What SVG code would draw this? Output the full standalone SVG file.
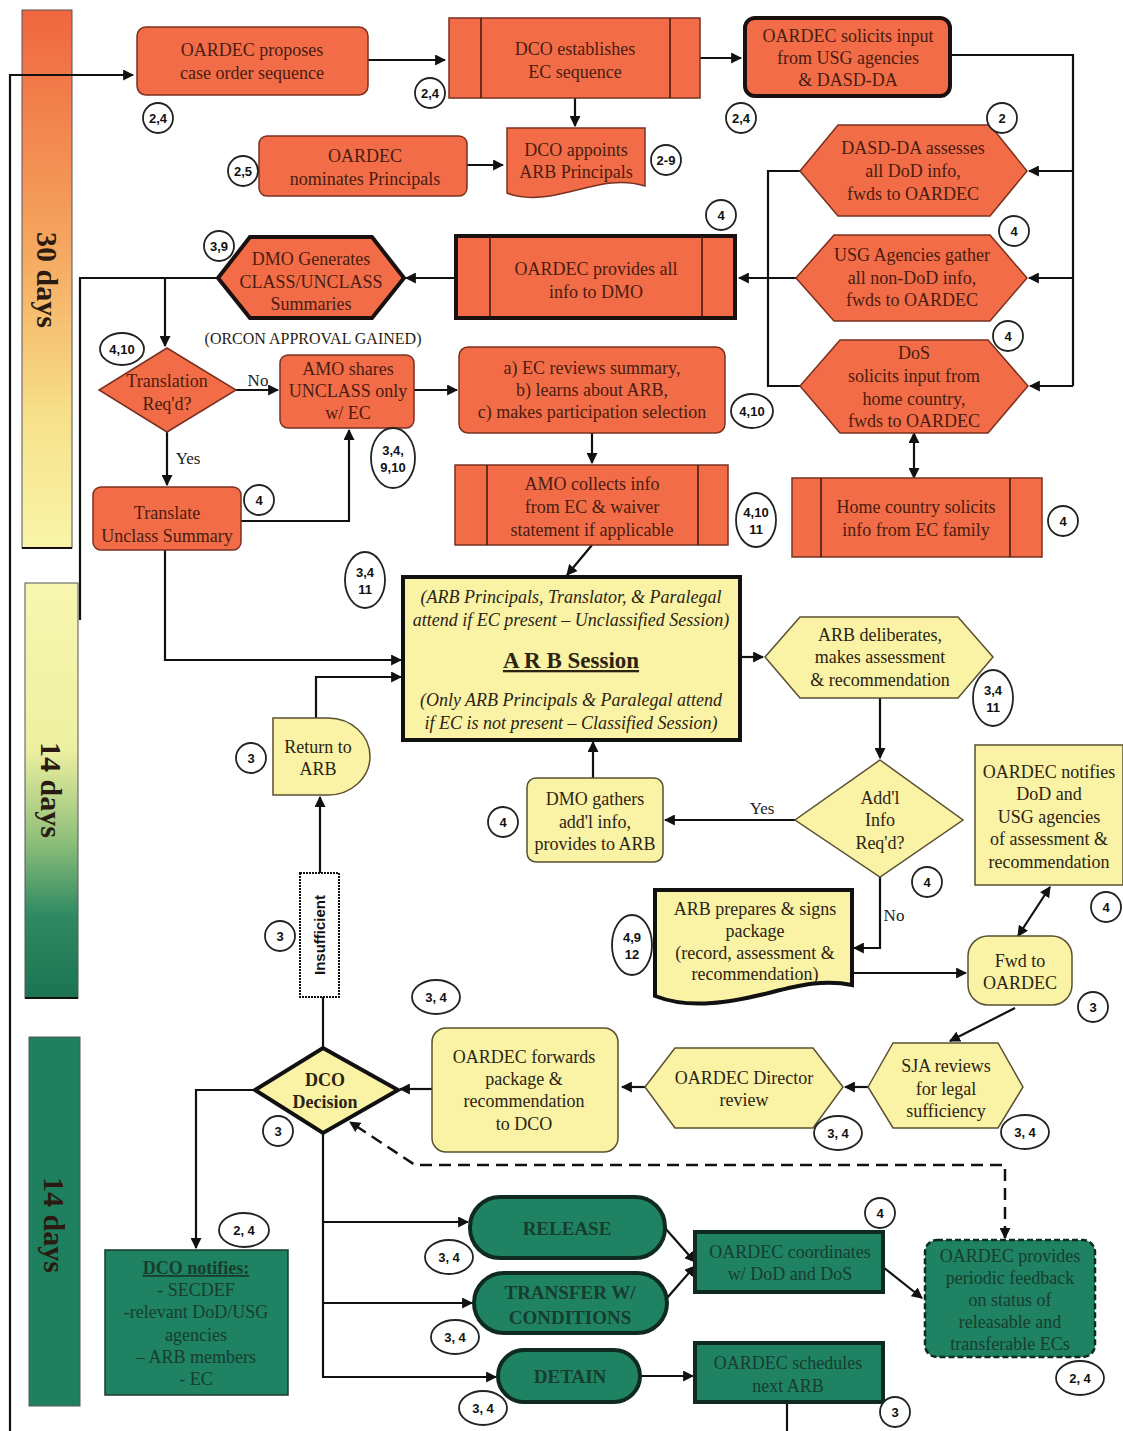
<svg xmlns="http://www.w3.org/2000/svg" width="1123" height="1431" viewBox="0 0 1123 1431">
<defs>
<linearGradient id="g30" x1="0" y1="0" x2="0" y2="1">
<stop offset="0" stop-color="#f0663f"/><stop offset="0.45" stop-color="#f5a860"/><stop offset="0.75" stop-color="#f7e08a"/><stop offset="1" stop-color="#f8f5a8"/>
</linearGradient>
<linearGradient id="g14a" x1="0" y1="0" x2="0" y2="1">
<stop offset="0" stop-color="#f8f6b0"/><stop offset="0.4" stop-color="#eef0a0"/><stop offset="0.62" stop-color="#8fbf7a"/><stop offset="0.8" stop-color="#2f8a62"/><stop offset="1" stop-color="#1a7452"/>
</linearGradient>
<marker id="ah" viewBox="0 0 10 10" refX="9" refY="5" markerWidth="11" markerHeight="11" markerUnits="userSpaceOnUse" orient="auto-start-reverse">
<path d="M0,0 L10,5 L0,10 Z" fill="#111"/>
</marker>
<style>
.t{font-family:"Liberation Serif","Times New Roman",serif;font-size:18px;text-anchor:middle}
.to{fill:#4a1c10}
.ty{fill:#2b2412}
.tg{fill:#173d2f}
.or{fill:#f26d47;stroke:#7a3020;stroke-width:1.5}
.orT{fill:#f26d47;stroke:#1a1010;stroke-width:4}
.ye{fill:#faf3a6;stroke:#5a5030;stroke-width:1.5}
.yeT{fill:#faf3a6;stroke:#111;stroke-width:4}
.gr{fill:#1f8262;stroke:#1a3a2c;stroke-width:1.5}
.grT{fill:#1f8262;stroke:#0f2a20;stroke-width:4}
.inl{stroke:#3a1a10;stroke-width:1.5;fill:none}
.c{fill:none;stroke:#111;stroke-width:2.2}
.ca{fill:none;stroke:#111;stroke-width:2.2;marker-end:url(#ah)}
.b{fill:#fff;stroke:#222;stroke-width:1.8}
.bt{font-family:"Liberation Sans",Arial,sans-serif;font-weight:bold;font-size:13px;text-anchor:middle;fill:#111}
.lbl{font-family:"Liberation Serif","Times New Roman",serif;font-size:17px;fill:#222}
.bar{font-family:"Liberation Serif","Times New Roman",serif;font-size:30px;font-weight:bold;fill:#2a1a10;text-anchor:middle}
</style>
</defs>
<rect width="1123" height="1431" fill="#fff"/>

<g id="timeline">
<rect x="22" y="10" width="50" height="538" fill="url(#g30)" stroke="#555" stroke-width="1"/>
<line x1="22" y1="548" x2="72" y2="548" stroke="#111" stroke-width="2"/>
<text class="bar" transform="translate(47,280) rotate(90)" dy="10">30 days</text>
<rect x="25" y="583" width="53" height="415" fill="url(#g14a)" stroke="#555" stroke-width="1"/>
<line x1="25" y1="998" x2="78" y2="998" stroke="#111" stroke-width="2"/>
<text class="bar" transform="translate(51,790) rotate(90)" dy="10">14 days</text>
<rect x="29" y="1037" width="51" height="369" fill="#1f8060" stroke="#555" stroke-width="1"/>
<text class="bar" transform="translate(54,1225) rotate(90)" dy="10">14 days</text>
</g>

<g id="connectors">
<path class="ca" d="M10,1431 V75 H133"/>
<path class="ca" d="M368,60 H445"/>
<path class="ca" d="M700,58 H741"/>
<path class="c" d="M950,55 H1073 V386"/>
<path class="ca" d="M1073,171 H1029"/>
<path class="ca" d="M1073,278 H1029"/>
<path class="ca" d="M1073,386 H1030"/>
<path class="c" d="M800,171 H768 V386 H800"/>
<path class="ca" d="M796,278 H739"/>
<path class="ca" d="M575,98 V126"/>
<path class="ca" d="M467,165 H503"/>
<path class="ca" d="M456,278 H406"/>
<path class="c" d="M218,278 H80 V620" stroke-width="1.5"/>
<path class="ca" d="M165,278 V346"/>
<path class="ca" d="M236,390 H278"/>
<path class="ca" d="M414,390 H457"/>
<path class="ca" d="M167,432 V485"/>
<path class="ca" d="M241,521 H349 V430"/>
<path class="ca" d="M165,550 V660 H401"/>
<path class="ca" d="M592,433 V463"/>
<path class="ca" d="M592,545 L567,575"/>
<path class="ca" d="M740,657 H763"/>
<path class="ca" d="M880,698 V758"/>
<path class="ca" d="M795,820 H665"/>
<path class="ca" d="M593,778 V742"/>
<path class="ca" d="M316,718 V677 H401"/>
<path class="ca" d="M320,873 V797"/>
<path class="c" d="M323,1048 V997"/>
<path class="ca" d="M880,877 V948 H854" stroke-width="3"/>
<path class="ca" d="M852,973 H966" stroke-width="3"/>
<path class="ca" d="M1018,936 L1050,887" stroke-width="3" marker-start="url(#ah)"/>
<path class="ca" d="M914,433 V478" stroke-width="3" marker-start="url(#ah)"/>
<path class="ca" d="M1015,1008 L950,1041" stroke-width="3"/>
<path class="ca" d="M868,1087 H845" stroke-width="3"/>
<path class="ca" d="M645,1087 H622" stroke-width="3"/>
<path class="ca" d="M432,1089 H400" stroke-width="3"/>
<path class="ca" d="M255,1090 H196 V1248"/>
<path class="ca" d="M323,1133 V1377 H496" stroke-width="3"/>
<path class="ca" d="M323,1222 H468" stroke-width="3"/>
<path class="ca" d="M323,1303 H472" stroke-width="3"/>
<path class="ca" d="M665,1228 L695,1262" stroke-width="3"/>
<path class="ca" d="M667,1298 L695,1266" stroke-width="3"/>
<path class="ca" d="M883,1267 L922,1298" stroke-width="3"/>
<path class="ca" d="M640,1376 H693" stroke-width="3"/>
<path class="c" d="M787,1402 V1431" stroke-width="3"/>
<path d="M1005,1238 V1165 H415 L350,1122" fill="none" stroke="#111" stroke-width="2.5" stroke-dasharray="12,7" marker-end="url(#ah)" marker-start="url(#ah)"/>
<text class="lbl" x="258" y="386" text-anchor="middle">No</text>
<text class="lbl" x="188" y="464" text-anchor="middle">Yes</text>
<text class="lbl" x="762" y="814" text-anchor="middle">Yes</text>
<text class="lbl" x="894" y="921" text-anchor="middle">No</text>
</g>

<g id="n-proposes"><rect class="or" x="137" y="27" width="231" height="68" rx="9"/>
<text class="t to" x="252" y="56">OARDEC proposes</text><text class="t to" x="252" y="79">case order sequence</text></g>

<g id="n-establishes"><rect class="or" x="449" y="18" width="251" height="80"/>
<path class="inl" d="M481,18 V98 M670,18 V98"/>
<text class="t to" x="575" y="55">DCO establishes</text><text class="t to" x="575" y="78">EC sequence</text></g>

<g id="n-solicits"><rect class="orT" x="745" y="18" width="205" height="78" rx="10"/>
<text class="t to" x="848" y="42">OARDEC solicits input</text><text class="t to" x="848" y="64">from USG agencies</text><text class="t to" x="848" y="86">&amp; DASD-DA</text></g>

<g id="n-nominates"><rect class="or" x="259" y="136" width="208" height="60" rx="8"/>
<text class="t to" x="365" y="162">OARDEC</text><text class="t to" x="365" y="185">nominates Principals</text></g>

<g id="n-appoints"><path class="or" d="M507,128 H645 V186 C612,176 585,190 550,196 C532,199 516,197 507,193 Z"/>
<text class="t to" x="576" y="156">DCO appoints</text><text class="t to" x="576" y="178">ARB Principals</text></g>

<g id="n-dasd"><path class="or" d="M800,171 L838,125 H990 L1027,171 L990,216 H838 Z"/>
<text class="t to" x="913" y="154">DASD-DA assesses</text><text class="t to" x="913" y="177">all DoD info,</text><text class="t to" x="913" y="200">fwds to OARDEC</text></g>

<g id="n-usg"><path class="or" d="M796,278 L834,235 H990 L1027,278 L990,321 H834 Z"/>
<text class="t to" x="912" y="261">USG Agencies gather</text><text class="t to" x="912" y="284">all non-DoD info,</text><text class="t to" x="912" y="306">fwds to OARDEC</text></g>

<g id="n-dos"><path class="or" d="M800,386 L840,340 H988 L1028,386 L988,433 H840 Z"/>
<text class="t to" x="914" y="359">DoS</text><text class="t to" x="914" y="382">solicits input from</text><text class="t to" x="914" y="405">home country,</text><text class="t to" x="914" y="427">fwds to OARDEC</text></g>

<g id="n-home"><rect class="or" x="792" y="478" width="250" height="79"/>
<path class="inl" d="M821,478 V557 M1010,478 V557"/>
<text class="t to" x="916" y="513">Home country solicits</text><text class="t to" x="916" y="536">info from EC family</text></g>

<g id="n-provides"><rect class="orT" x="456" y="236" width="279" height="82"/>
<path class="inl" d="M490,236 V318 M702,236 V318" stroke-width="2.5" stroke="#1a1010"/>
<text class="t to" x="596" y="275">OARDEC provides all</text><text class="t to" x="596" y="298">info to DMO</text></g>

<g id="n-dmo"><path class="orT" d="M218,278 L250,237 H372 L404,278 L372,318 H250 Z"/>
<text class="t to" x="311" y="265">DMO Generates</text><text class="t to" x="311" y="288">CLASS/UNCLASS</text><text class="t to" x="311" y="310">Summaries</text>
<text class="t" x="313" y="344" style="font-size:16px;fill:#2a1a10">(ORCON APPROVAL GAINED)</text></g>

<g id="n-translation"><path class="or" d="M167,348 L236,390 L167,432 L99,390 Z"/>
<text class="t to" x="167" y="387">Translation</text><text class="t to" x="167" y="410">Req'd?</text></g>

<g id="n-amoshares"><rect class="or" x="280" y="355" width="134" height="73" rx="8"/>
<text class="t to" x="348" y="375">AMO shares</text><text class="t to" x="348" y="397">UNCLASS only</text><text class="t to" x="348" y="419">w/ EC</text></g>

<g id="n-ecreviews"><rect class="or" x="459" y="347" width="266" height="86" rx="9"/>
<text class="t to" x="592" y="374">a) EC reviews summary,</text><text class="t to" x="592" y="396">b) learns about ARB,</text><text class="t to" x="592" y="418">c) makes participation selection</text></g>

<g id="n-translate"><rect class="or" x="93" y="487" width="148" height="63" rx="8"/>
<text class="t to" x="167" y="519">Translate</text><text class="t to" x="167" y="542">Unclass Summary</text></g>

<g id="n-amocollects"><rect class="or" x="455" y="465" width="273" height="80"/>
<path class="inl" d="M487,465 V545 M698,465 V545"/>
<text class="t to" x="592" y="490">AMO collects info</text><text class="t to" x="592" y="513">from EC &amp; waiver</text><text class="t to" x="592" y="536">statement if applicable</text></g>

<g id="n-session"><rect class="yeT" x="403" y="577" width="337" height="163"/>
<text class="t ty" x="571" y="603" font-style="italic">(ARB Principals, Translator, &amp; Paralegal</text>
<text class="t ty" x="571" y="626" font-style="italic">attend if EC present – Unclassified Session)</text>
<text class="t ty" x="571" y="668" font-weight="bold" text-decoration="underline" style="font-size:23px">A R B Session</text>
<text class="t ty" x="571" y="706" font-style="italic">(Only ARB Principals &amp; Paralegal attend</text>
<text class="t ty" x="571" y="729" font-style="italic">if EC is not present – Classified Session)</text></g>

<g id="n-deliberates"><path class="ye" d="M765,657 L800,617 H958 L993,657 L958,698 H800 Z"/>
<text class="t ty" x="880" y="641">ARB deliberates,</text><text class="t ty" x="880" y="663">makes assessment</text><text class="t ty" x="880" y="686">&amp; recommendation</text></g>

<g id="n-addl"><path class="ye" d="M880,760 L963,820 L880,877 L795,820 Z"/>
<text class="t ty" x="880" y="804">Add'l</text><text class="t ty" x="880" y="826">Info</text><text class="t ty" x="880" y="849">Req'd?</text></g>

<g id="n-dmogathers"><rect class="ye" x="527" y="778" width="136" height="84" rx="9"/>
<text class="t ty" x="595" y="805">DMO gathers</text><text class="t ty" x="595" y="828">add'l info,</text><text class="t ty" x="595" y="850">provides to ARB</text></g>

<g id="n-return"><path class="ye" d="M273,718 H328 A42,38.5 0 0 1 328,795 H273 Z"/>
<text class="t ty" x="318" y="753">Return to</text><text class="t ty" x="318" y="775">ARB</text></g>

<g id="n-insufficient"><rect x="300" y="873" width="39" height="124" fill="#fff" stroke="#111" stroke-width="2" stroke-dasharray="2,1"/>
<text transform="translate(320,935) rotate(-90)" dy="5" style="font-family:'Liberation Sans',Arial,sans-serif;font-weight:bold;font-size:15px;text-anchor:middle;fill:#111">Insufficient</text></g>

<g id="n-prepares"><path class="yeT" d="M655,890 H852 V985 C805,975 765,1000 712,1003 C688,1005 668,1001 655,996 Z"/>
<text class="t ty" x="755" y="915">ARB prepares &amp; signs</text><text class="t ty" x="755" y="937">package</text><text class="t ty" x="755" y="959">(record, assessment &amp;</text><text class="t ty" x="755" y="980">recommendation)</text></g>

<g id="n-fwd"><rect class="ye" x="968" y="936" width="104" height="69" rx="20"/>
<text class="t ty" x="1020" y="967">Fwd to</text><text class="t ty" x="1020" y="989">OARDEC</text></g>

<g id="n-notifies"><rect class="ye" x="975" y="745" width="148" height="140"/>
<text class="t ty" x="1049" y="778">OARDEC notifies</text><text class="t ty" x="1049" y="800">DoD and</text><text class="t ty" x="1049" y="823">USG agencies</text><text class="t ty" x="1049" y="845">of assessment &amp;</text><text class="t ty" x="1049" y="868">recommendation</text></g>

<g id="n-sja"><path class="ye" d="M868,1087 L893,1043 H998 L1023,1087 L998,1128 H893 Z"/>
<text class="t ty" x="946" y="1072">SJA reviews</text><text class="t ty" x="946" y="1095">for legal</text><text class="t ty" x="946" y="1117">sufficiency</text></g>

<g id="n-director"><path class="ye" d="M645,1087 L675,1048 H813 L843,1087 L813,1128 H675 Z"/>
<text class="t ty" x="744" y="1084">OARDEC Director</text><text class="t ty" x="744" y="1106">review</text></g>

<g id="n-forwards"><rect class="ye" x="432" y="1028" width="186" height="124" rx="14"/>
<text class="t ty" x="524" y="1063">OARDEC forwards</text><text class="t ty" x="524" y="1085">package &amp;</text><text class="t ty" x="524" y="1107">recommendation</text><text class="t ty" x="524" y="1130">to DCO</text></g>

<g id="n-dco"><path class="yeT" d="M323,1048 L398,1090 L323,1133 L255,1090 Z" stroke-width="3.5"/>
<text class="t ty" x="325" y="1086" font-weight="bold">DCO</text><text class="t ty" x="325" y="1108" font-weight="bold">Decision</text></g>

<g id="n-dconotifies"><rect class="gr" x="105" y="1250" width="183" height="145"/>
<text class="t tg" x="196" y="1274" font-weight="bold" text-decoration="underline">DCO notifies:</text>
<text class="t tg" x="196" y="1296">- SECDEF</text><text class="t tg" x="196" y="1318">-relevant DoD/USG</text><text class="t tg" x="196" y="1341">agencies</text><text class="t tg" x="196" y="1363">– ARB members</text><text class="t tg" x="196" y="1385">- EC</text></g>

<g id="n-release"><rect class="grT" x="470" y="1197" width="195" height="61" rx="30"/>
<text class="t tg" x="567" y="1235" font-weight="bold" style="font-size:19px">RELEASE</text></g>

<g id="n-transfer"><rect class="grT" x="474" y="1273" width="193" height="60" rx="30"/>
<text class="t tg" x="570" y="1299" font-weight="bold" style="font-size:19px">TRANSFER W/</text><text class="t tg" x="570" y="1324" font-weight="bold" style="font-size:19px">CONDITIONS</text></g>

<g id="n-detain"><rect class="grT" x="498" y="1350" width="142" height="52" rx="26"/>
<text class="t tg" x="570" y="1383" font-weight="bold" style="font-size:19px">DETAIN</text></g>

<g id="n-coordinates"><rect class="grT" x="695" y="1232" width="188" height="60" stroke-width="2.5"/>
<text class="t tg" x="790" y="1258">OARDEC coordinates</text><text class="t tg" x="790" y="1280">w/ DoD and DoS</text></g>

<g id="n-schedules"><rect class="grT" x="695" y="1343" width="188" height="59" stroke-width="2.5"/>
<text class="t tg" x="788" y="1369">OARDEC schedules</text><text class="t tg" x="788" y="1392">next ARB</text></g>

<g id="n-periodic"><rect x="925" y="1240" width="170" height="117" rx="12" fill="#1f8262" stroke="#0f2a20" stroke-width="2.5" stroke-dasharray="6,3"/>
<text class="t tg" x="1010" y="1262">OARDEC provides</text><text class="t tg" x="1010" y="1284">periodic feedback</text><text class="t tg" x="1010" y="1306">on status of</text><text class="t tg" x="1010" y="1328">releasable and</text><text class="t tg" x="1010" y="1350">transferable ECs</text></g>

<g id="badges">
<circle class="b" cx="158" cy="118" r="15"/><text class="bt" x="158" y="123">2,4</text>
<circle class="b" cx="430" cy="93" r="15"/><text class="bt" x="430" y="98">2,4</text>
<circle class="b" cx="741" cy="118" r="15"/><text class="bt" x="741" y="123">2,4</text>
<circle class="b" cx="1002" cy="118" r="15"/><text class="bt" x="1002" y="123">2</text>
<circle class="b" cx="243" cy="171" r="15"/><text class="bt" x="243" y="176">2,5</text>
<circle class="b" cx="666" cy="160" r="15"/><text class="bt" x="666" y="165">2-9</text>
<circle class="b" cx="721" cy="215" r="15"/><text class="bt" x="721" y="220">4</text>
<circle class="b" cx="219" cy="246" r="15"/><text class="bt" x="219" y="251">3,9</text>
<circle class="b" cx="1014" cy="231" r="15"/><text class="bt" x="1014" y="236">4</text>
<circle class="b" cx="1008" cy="336" r="15"/><text class="bt" x="1008" y="341">4</text>
<ellipse class="b" cx="122" cy="349" rx="22" ry="16"/><text class="bt" x="122" y="354">4,10</text>
<ellipse class="b" cx="393" cy="458" rx="22" ry="30"/><text class="bt" x="393" y="455">3,4,</text><text class="bt" x="393" y="472">9,10</text>
<ellipse class="b" cx="752" cy="411" rx="21" ry="17"/><text class="bt" x="752" y="416">4,10</text>
<circle class="b" cx="259" cy="500" r="15"/><text class="bt" x="259" y="505">4</text>
<ellipse class="b" cx="756" cy="520" rx="20" ry="27"/><text class="bt" x="756" y="517">4,10</text><text class="bt" x="756" y="534">11</text>
<circle class="b" cx="1063" cy="521" r="15"/><text class="bt" x="1063" y="526">4</text>
<ellipse class="b" cx="365" cy="580" rx="20" ry="28"/><text class="bt" x="365" y="577">3,4</text><text class="bt" x="365" y="594">11</text>
<ellipse class="b" cx="993" cy="698" rx="20" ry="28"/><text class="bt" x="993" y="695">3,4</text><text class="bt" x="993" y="712">11</text>
<circle class="b" cx="927" cy="882" r="15"/><text class="bt" x="927" y="887">4</text>
<circle class="b" cx="503" cy="822" r="15"/><text class="bt" x="503" y="827">4</text>
<circle class="b" cx="251" cy="758" r="15"/><text class="bt" x="251" y="763">3</text>
<circle class="b" cx="1106" cy="907" r="15"/><text class="bt" x="1106" y="912">4</text>
<ellipse class="b" cx="632" cy="945" rx="20" ry="30"/><text class="bt" x="632" y="942">4,9</text><text class="bt" x="632" y="959">12</text>
<circle class="b" cx="1093" cy="1007" r="15"/><text class="bt" x="1093" y="1012">3</text>
<circle class="b" cx="280" cy="936" r="15"/><text class="bt" x="280" y="941">3</text>
<ellipse class="b" cx="436" cy="997" rx="24" ry="17"/><text class="bt" x="436" y="1002">3, 4</text>
<ellipse class="b" cx="838" cy="1133" rx="24" ry="17"/><text class="bt" x="838" y="1138">3, 4</text>
<ellipse class="b" cx="1025" cy="1132" rx="24" ry="17"/><text class="bt" x="1025" y="1137">3, 4</text>
<circle class="b" cx="278" cy="1131" r="15"/><text class="bt" x="278" y="1136">3</text>
<ellipse class="b" cx="244" cy="1230" rx="25" ry="17"/><text class="bt" x="244" y="1235">2, 4</text>
<circle class="b" cx="880" cy="1213" r="15"/><text class="bt" x="880" y="1218">4</text>
<ellipse class="b" cx="449" cy="1257" rx="24" ry="17"/><text class="bt" x="449" y="1262">3, 4</text>
<ellipse class="b" cx="455" cy="1337" rx="24" ry="17"/><text class="bt" x="455" y="1342">3, 4</text>
<ellipse class="b" cx="483" cy="1408" rx="24" ry="17"/><text class="bt" x="483" y="1413">3, 4</text>
<ellipse class="b" cx="1080" cy="1378" rx="24" ry="17"/><text class="bt" x="1080" y="1383">2, 4</text>
<circle class="b" cx="895" cy="1412" r="15"/><text class="bt" x="895" y="1417">3</text>
</g>
</svg>
